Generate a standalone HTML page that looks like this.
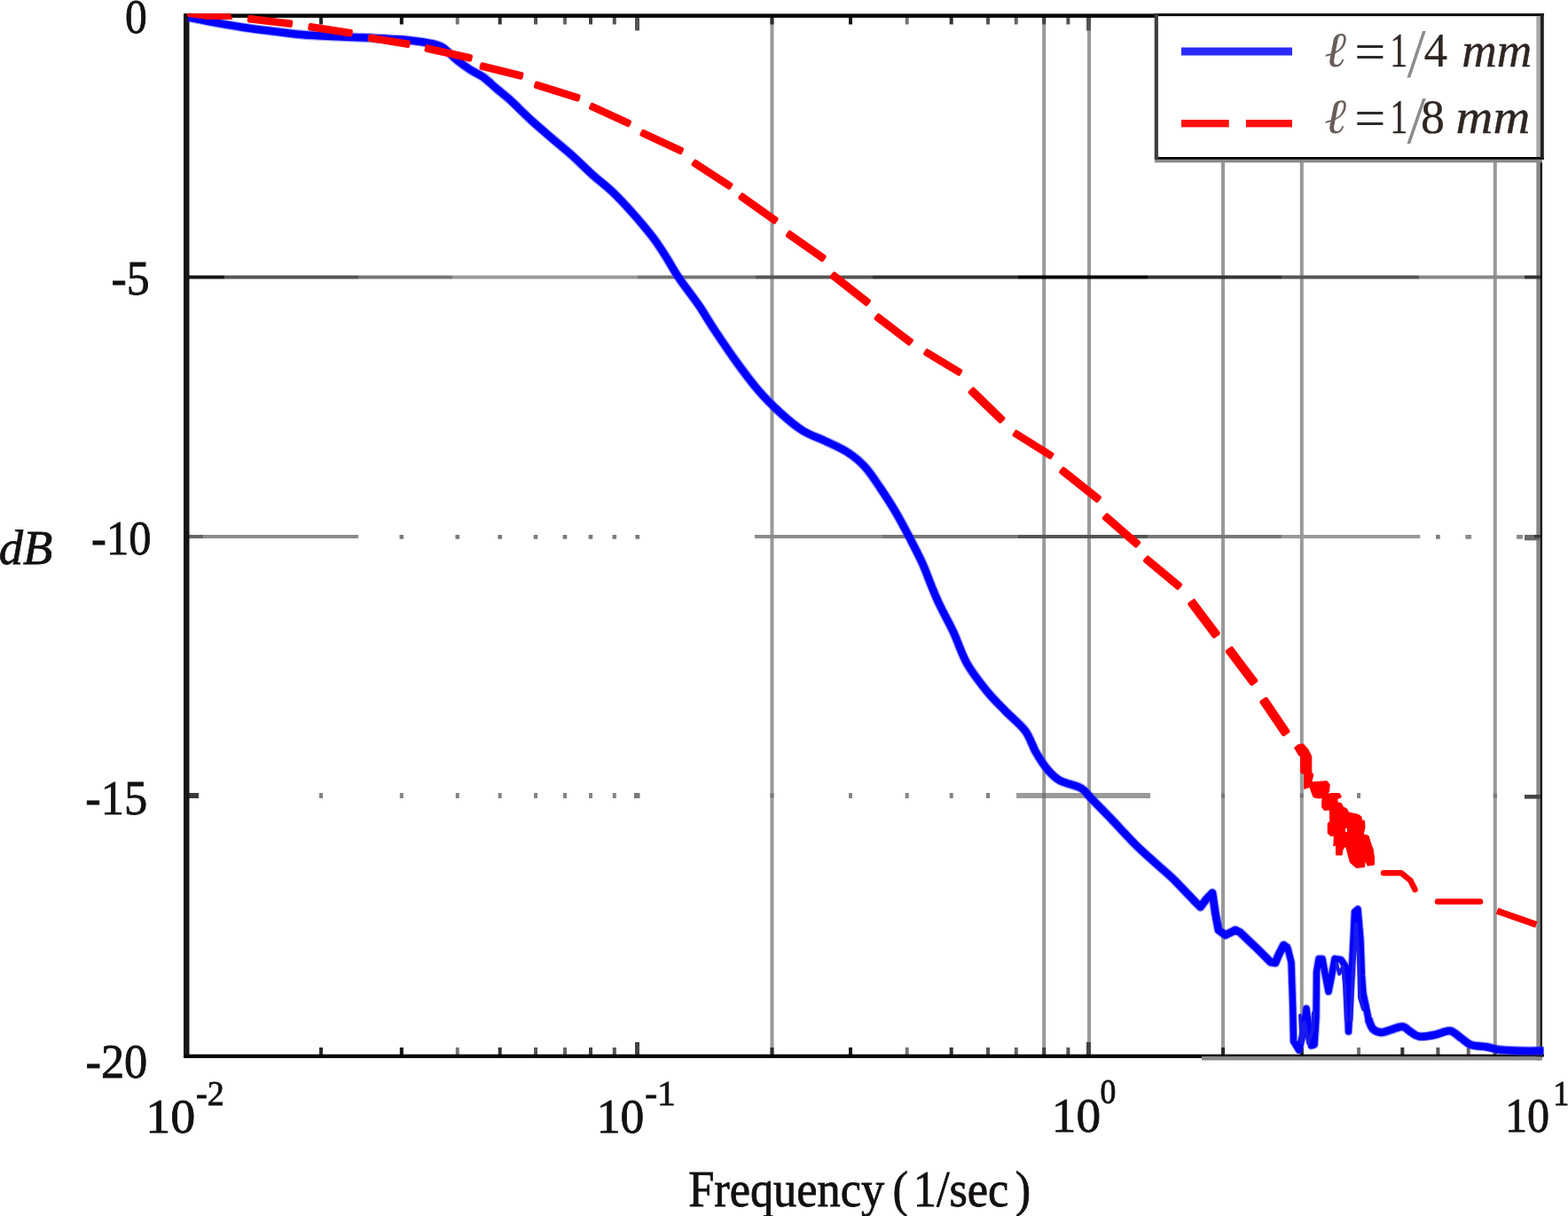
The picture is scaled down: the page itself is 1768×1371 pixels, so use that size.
<!DOCTYPE html>
<html lang="en">
<head>
<meta charset="utf-8">
<title>Frequency response</title>
<style>
html,body{margin:0;padding:0;background:#ffffff;}
body{width:1768px;height:1371px;overflow:hidden;}
svg{display:block;font-family:"Liberation Serif","DejaVu Serif",serif;}
</style>
</head>
<body>
<svg width="1768" height="1371" viewBox="0 0 1768 1371">
<rect x="0" y="0" width="1768" height="1371" fill="#ffffff"/>
<rect x="868.50" y="20.00" width="4.00" height="1170.00" fill="#999999" />
<rect x="1175.20" y="20.00" width="4.00" height="1170.00" fill="#999999" />
<rect x="1226.00" y="20.00" width="4.00" height="1170.00" fill="#999999" />
<rect x="1377.00" y="181.00" width="4.00" height="1009.00" fill="#999999" />
<rect x="1465.80" y="181.00" width="4.00" height="1009.00" fill="#999999" />
<rect x="1683.80" y="181.00" width="4.00" height="1009.00" fill="#999999" />
<rect x="213.00" y="310.50" width="40.00" height="4.00" fill="#151515" />
<rect x="253.00" y="310.50" width="151.00" height="4.00" fill="#555555" />
<rect x="404.00" y="310.50" width="106.00" height="4.00" fill="#777777" />
<rect x="510.00" y="310.50" width="209.00" height="4.00" fill="#999999" />
<rect x="719.00" y="310.50" width="133.00" height="4.00" fill="#777777" />
<rect x="852.00" y="310.50" width="132.00" height="4.00" fill="#555555" />
<rect x="984.00" y="310.50" width="164.00" height="4.00" fill="#333333" />
<rect x="1148.00" y="310.50" width="146.00" height="4.00" fill="#050505" />
<rect x="1294.00" y="310.50" width="151.00" height="4.00" fill="#333333" />
<rect x="1445.00" y="310.50" width="155.00" height="4.00" fill="#555555" />
<rect x="1600.00" y="310.50" width="119.00" height="4.00" fill="#888888" />
<rect x="213.00" y="603.00" width="16.00" height="4.00" fill="#666666" />
<rect x="229.00" y="603.00" width="175.00" height="4.00" fill="#8c8c8c" />
<rect x="851.00" y="603.00" width="144.00" height="4.00" fill="#8c8c8c" />
<rect x="995.00" y="603.00" width="153.00" height="4.00" fill="#777777" />
<rect x="1148.00" y="603.00" width="146.00" height="4.00" fill="#555555" />
<rect x="1294.00" y="603.00" width="151.00" height="4.00" fill="#777777" />
<rect x="1445.00" y="603.00" width="156.30" height="4.00" fill="#999999" />
<rect x="450.50" y="603.00" width="4.60" height="4.70" fill="#7a7a7a" />
<rect x="513.50" y="603.00" width="4.60" height="4.70" fill="#7a7a7a" />
<rect x="561.40" y="603.00" width="4.60" height="4.70" fill="#7a7a7a" />
<rect x="601.70" y="603.00" width="4.60" height="4.70" fill="#7a7a7a" />
<rect x="634.70" y="603.00" width="4.60" height="4.70" fill="#7a7a7a" />
<rect x="663.70" y="603.00" width="4.60" height="4.70" fill="#7a7a7a" />
<rect x="690.50" y="603.00" width="4.60" height="4.70" fill="#7a7a7a" />
<rect x="716.50" y="603.00" width="4.60" height="4.70" fill="#7a7a7a" />
<rect x="1619.10" y="603.00" width="4.60" height="4.70" fill="#7a7a7a" />
<rect x="1652.30" y="603.00" width="6.80" height="4.70" fill="#8a8a8a" />
<rect x="1710.10" y="603.00" width="6.80" height="4.70" fill="#8a8a8a" />
<rect x="213.00" y="894.00" width="11.00" height="6.00" fill="#3a3a3a" />
<rect x="1146.00" y="894.00" width="151.00" height="6.00" fill="#9a9a9a" />
<rect x="360.00" y="894.00" width="4.00" height="6.00" fill="#858585" />
<rect x="450.80" y="894.00" width="4.00" height="6.00" fill="#858585" />
<rect x="513.80" y="894.00" width="4.00" height="6.00" fill="#858585" />
<rect x="561.70" y="894.00" width="4.00" height="6.00" fill="#858585" />
<rect x="602.00" y="894.00" width="4.00" height="6.00" fill="#858585" />
<rect x="635.00" y="894.00" width="4.00" height="6.00" fill="#858585" />
<rect x="664.00" y="894.00" width="4.00" height="6.00" fill="#858585" />
<rect x="690.80" y="894.00" width="4.00" height="6.00" fill="#858585" />
<rect x="957.00" y="894.00" width="4.00" height="6.00" fill="#858585" />
<rect x="1020.70" y="894.00" width="4.00" height="6.00" fill="#858585" />
<rect x="1070.70" y="894.00" width="4.00" height="6.00" fill="#858585" />
<rect x="1112.00" y="894.00" width="4.00" height="6.00" fill="#858585" />
<rect x="1530.00" y="894.00" width="4.00" height="6.00" fill="#858585" />
<rect x="715.00" y="894.00" width="6.50" height="6.00" fill="#7a7a7a" />
<rect x="868.50" y="894.50" width="4.00" height="5.00" fill="#777777" />
<rect x="1377.00" y="894.50" width="4.00" height="5.00" fill="#777777" />
<rect x="1465.80" y="894.50" width="4.00" height="5.00" fill="#777777" />
<rect x="1683.80" y="894.50" width="4.00" height="5.00" fill="#777777" />
<rect x="1175.20" y="894.00" width="4.00" height="6.00" fill="#777777" />
<rect x="1226.00" y="894.00" width="4.00" height="6.00" fill="#777777" />
<rect x="360.00" y="1181.00" width="4.00" height="8.50" fill="#2a2a2a" />
<rect x="360.00" y="19.50" width="4.00" height="8.00" fill="#2a2a2a" />
<rect x="450.80" y="1181.00" width="4.00" height="8.50" fill="#111111" />
<rect x="450.80" y="19.50" width="4.00" height="8.00" fill="#111111" />
<rect x="513.80" y="1181.00" width="4.00" height="8.50" fill="#777777" />
<rect x="513.80" y="19.50" width="4.00" height="8.00" fill="#777777" />
<rect x="561.70" y="1181.00" width="4.00" height="8.50" fill="#333333" />
<rect x="561.70" y="19.50" width="4.00" height="8.00" fill="#333333" />
<rect x="602.00" y="1181.00" width="4.00" height="8.50" fill="#555555" />
<rect x="602.00" y="19.50" width="4.00" height="8.00" fill="#555555" />
<rect x="635.00" y="1181.00" width="4.00" height="8.50" fill="#666666" />
<rect x="635.00" y="19.50" width="4.00" height="8.00" fill="#666666" />
<rect x="664.00" y="1181.00" width="4.00" height="8.50" fill="#444444" />
<rect x="664.00" y="19.50" width="4.00" height="8.00" fill="#444444" />
<rect x="690.80" y="1181.00" width="4.00" height="8.50" fill="#555555" />
<rect x="690.80" y="19.50" width="4.00" height="8.00" fill="#555555" />
<rect x="868.50" y="1181.00" width="4.00" height="8.50" fill="#2a2a2a" />
<rect x="868.50" y="19.50" width="4.00" height="8.00" fill="#2a2a2a" />
<rect x="957.00" y="1181.00" width="4.00" height="8.50" fill="#111111" />
<rect x="957.00" y="19.50" width="4.00" height="8.00" fill="#111111" />
<rect x="1020.70" y="1181.00" width="4.00" height="8.50" fill="#777777" />
<rect x="1020.70" y="19.50" width="4.00" height="8.00" fill="#777777" />
<rect x="1070.70" y="1181.00" width="4.00" height="8.50" fill="#333333" />
<rect x="1070.70" y="19.50" width="4.00" height="8.00" fill="#333333" />
<rect x="1112.00" y="1181.00" width="4.00" height="8.50" fill="#555555" />
<rect x="1112.00" y="19.50" width="4.00" height="8.00" fill="#555555" />
<rect x="1143.80" y="1181.00" width="4.00" height="8.50" fill="#666666" />
<rect x="1143.80" y="19.50" width="4.00" height="8.00" fill="#666666" />
<rect x="1175.20" y="1181.00" width="4.00" height="8.50" fill="#444444" />
<rect x="1175.20" y="19.50" width="4.00" height="8.00" fill="#444444" />
<rect x="1202.40" y="1181.00" width="4.00" height="8.50" fill="#555555" />
<rect x="1202.40" y="19.50" width="4.00" height="8.00" fill="#555555" />
<rect x="1377.00" y="1181.00" width="4.00" height="8.50" fill="#2a2a2a" />
<rect x="1465.80" y="1181.00" width="4.00" height="8.50" fill="#111111" />
<rect x="1530.00" y="1181.00" width="4.00" height="8.50" fill="#777777" />
<rect x="1579.30" y="1181.00" width="4.00" height="8.50" fill="#333333" />
<rect x="1619.40" y="1181.00" width="4.00" height="8.50" fill="#555555" />
<rect x="1653.70" y="1181.00" width="4.00" height="8.50" fill="#666666" />
<rect x="1683.80" y="1181.00" width="4.00" height="8.50" fill="#444444" />
<rect x="1711.50" y="1181.00" width="4.00" height="8.50" fill="#555555" />
<rect x="716.00" y="19.50" width="5.00" height="15.00" fill="#555555" />
<rect x="716.00" y="1175.00" width="5.00" height="14.50" fill="#444444" />
<rect x="1225.00" y="19.50" width="5.00" height="15.00" fill="#555555" />
<rect x="1225.00" y="1175.00" width="5.00" height="14.50" fill="#444444" />
<rect x="207.00" y="15.50" width="6.50" height="1177.50" fill="#161616" />
<rect x="207.00" y="15.50" width="1097.00" height="4.50" fill="#050505" />
<rect x="1732.30" y="181.00" width="4.30" height="1014.50" fill="#8a8a8a" />
<rect x="1736.60" y="181.00" width="2.40" height="1012.00" fill="#050505" />
<rect x="207.00" y="1188.70" width="1148.00" height="4.30" fill="#050505" />
<rect x="1355.00" y="1188.70" width="386.00" height="2.80" fill="#050505" />
<rect x="1355.00" y="1191.50" width="384.00" height="4.00" fill="#8a8a8a" />
<rect x="1719.00" y="310.50" width="18.00" height="4.00" fill="#333333" />
<rect x="1719.00" y="603.00" width="18.00" height="6.30" fill="#6a6a6a" />
<rect x="1730.00" y="603.00" width="7.00" height="3.50" fill="#3a3a3a" />
<rect x="1719.00" y="896.00" width="18.00" height="4.60" fill="#444444" />
<path d="M212.5,19.5 C217.1,20.4 229.6,23.1 240.0,25.0 C250.4,26.9 263.3,29.2 275.0,31.0 C286.7,32.8 299.2,34.2 310.0,35.5 C320.8,36.8 329.2,38.1 340.0,39.0 C350.8,39.9 362.9,40.4 375.0,41.0 C387.1,41.6 401.7,42.0 412.5,42.5 C423.3,43.0 431.7,43.5 440.0,44.0 C448.3,44.5 455.8,44.8 462.5,45.5 C469.2,46.2 475.1,47.2 480.0,48.0 C484.9,48.8 488.7,49.5 492.0,50.5 C495.3,51.5 496.2,51.2 500.0,54.0 C503.8,56.8 510.0,63.4 515.0,67.5 C520.0,71.6 525.0,75.2 530.0,78.5 C535.0,81.8 540.0,83.4 545.0,87.0 C550.0,90.6 555.0,95.8 560.0,100.0 C565.0,104.2 570.0,108.0 575.0,112.5 C580.0,117.0 585.8,123.0 590.0,127.0 C594.2,131.0 594.6,131.6 600.0,136.5 C605.4,141.4 615.1,149.7 622.6,156.2 C630.1,162.7 637.7,168.6 645.2,175.4 C652.8,182.2 660.4,190.1 667.9,196.9 C675.4,203.7 683.0,209.0 690.5,216.2 C698.0,223.4 705.6,231.5 713.1,240.0 C720.6,248.5 729.6,259.0 735.7,267.0 C741.9,275.0 745.1,280.4 750.0,288.0 C754.9,295.6 758.8,303.2 765.0,312.5 C771.2,321.8 780.8,333.8 787.5,343.5 C794.2,353.2 797.9,360.3 805.0,371.0 C812.1,381.7 821.7,396.0 830.0,407.5 C838.3,419.0 846.7,430.3 855.0,440.0 C863.3,449.7 871.7,457.9 880.0,465.5 C888.3,473.1 896.7,480.2 905.0,485.5 C913.3,490.8 921.7,493.0 930.0,497.0 C938.3,501.0 947.5,504.7 955.0,509.5 C962.5,514.3 968.8,519.2 975.0,526.0 C981.2,532.8 986.7,541.4 992.5,550.0 C998.3,558.6 1004.6,568.3 1010.0,577.5 C1015.4,586.7 1020.0,595.4 1025.0,605.0 C1030.0,614.6 1035.8,625.8 1040.0,635.0 C1044.2,644.2 1046.7,652.0 1050.0,660.0 C1053.3,668.0 1055.8,674.2 1060.0,683.0 C1064.2,691.8 1070.0,701.8 1075.0,712.5 C1080.0,723.2 1083.8,736.4 1090.0,747.5 C1096.2,758.6 1105.2,769.9 1112.5,779.0 C1119.8,788.1 1126.8,794.5 1134.0,802.0 C1141.2,809.5 1150.3,816.3 1156.0,824.0 C1161.7,831.7 1163.8,840.7 1168.0,848.0 C1172.2,855.3 1177.0,862.7 1181.5,868.0 C1186.0,873.3 1188.8,876.6 1195.0,880.0 C1201.2,883.4 1213.0,885.2 1219.0,888.6 C1225.0,892.0 1225.1,894.8 1230.7,900.5 C1236.3,906.2 1244.5,914.4 1252.7,923.0 C1260.9,931.6 1271.7,943.7 1280.0,952.0 C1288.3,960.3 1295.1,965.9 1302.6,972.8 C1310.1,979.7 1317.7,985.8 1325.2,993.2 L1347.9,1017.0 L1353.5,1022.6 L1360.0,1014.0 L1367.0,1006.7 L1370.5,1030.5 L1374.0,1048.6 L1381.8,1054.3 L1393.0,1048.6 L1398.0,1051.0 L1415.7,1067.8 L1432.7,1084.8 L1438.0,1085.5 L1442.0,1076.0 L1447.4,1065.6 L1452.0,1069.0" fill="none" stroke="#4848ee" stroke-width="10.8" stroke-linejoin="round" stroke-linecap="butt" stroke-opacity="0.5"/>
<path d="M1543.0,1149.0 C1543.8,1150.8 1545.6,1157.5 1548.0,1160.0 C1550.4,1162.5 1554.1,1163.8 1557.5,1164.0 C1560.9,1164.2 1564.6,1162.1 1568.6,1161.0 C1572.6,1159.9 1577.9,1157.2 1581.5,1157.5 C1585.1,1157.8 1586.9,1161.2 1590.0,1163.0 C1593.1,1164.8 1595.4,1167.9 1600.0,1168.5 C1604.6,1169.1 1612.0,1167.8 1617.8,1166.7 C1623.6,1165.7 1629.8,1161.7 1634.7,1162.2 C1639.6,1162.8 1643.0,1167.4 1647.0,1170.0 C1651.0,1172.6 1653.8,1176.3 1658.5,1178.0 C1663.2,1179.7 1669.8,1179.3 1675.5,1180.3 C1681.2,1181.2 1685.8,1183.0 1692.4,1183.7 C1699.0,1184.5 1707.0,1184.6 1715.0,1184.8 C1723.0,1185.0 1736.2,1184.8 1740.5,1184.8" fill="none" stroke="#4848ee" stroke-width="10.8" stroke-linejoin="round" stroke-linecap="butt" stroke-opacity="0.5"/>
<path d="M1452.0,1069.0 L1456.0,1085.0 L1457.7,1135.0 L1458.5,1174.0 L1464.7,1184.0 L1468.0,1170.0 L1470.2,1160.0 L1473.0,1137.0 L1476.0,1160.0 L1478.5,1179.0 L1482.0,1178.0 L1484.0,1148.0 L1484.5,1096.0 L1487.0,1081.0 L1491.0,1081.0 L1494.5,1100.0 L1498.0,1118.0 L1501.5,1100.0 L1505.0,1081.0 L1512.0,1082.0 L1517.5,1090.0 L1519.0,1120.0 L1520.5,1163.0 L1522.5,1120.0 L1524.5,1090.0 L1527.5,1028.0 L1531.0,1025.0 L1534.0,1060.0 L1535.5,1100.0 L1537.0,1120.0 L1540.0,1134.0 L1543.0,1149.0" fill="none" stroke="#4848ee" stroke-width="9.4" stroke-linejoin="round" stroke-linecap="round" stroke-opacity="0.55"/>
<path d="M212.5,19.5 C217.1,20.4 229.6,23.1 240.0,25.0 C250.4,26.9 263.3,29.2 275.0,31.0 C286.7,32.8 299.2,34.2 310.0,35.5 C320.8,36.8 329.2,38.1 340.0,39.0 C350.8,39.9 362.9,40.4 375.0,41.0 C387.1,41.6 401.7,42.0 412.5,42.5 C423.3,43.0 431.7,43.5 440.0,44.0 C448.3,44.5 455.8,44.8 462.5,45.5 C469.2,46.2 475.1,47.2 480.0,48.0 C484.9,48.8 488.7,49.5 492.0,50.5 C495.3,51.5 496.2,51.2 500.0,54.0 C503.8,56.8 510.0,63.4 515.0,67.5 C520.0,71.6 525.0,75.2 530.0,78.5 C535.0,81.8 540.0,83.4 545.0,87.0 C550.0,90.6 555.0,95.8 560.0,100.0 C565.0,104.2 570.0,108.0 575.0,112.5 C580.0,117.0 585.8,123.0 590.0,127.0 C594.2,131.0 594.6,131.6 600.0,136.5 C605.4,141.4 615.1,149.7 622.6,156.2 C630.1,162.7 637.7,168.6 645.2,175.4 C652.8,182.2 660.4,190.1 667.9,196.9 C675.4,203.7 683.0,209.0 690.5,216.2 C698.0,223.4 705.6,231.5 713.1,240.0 C720.6,248.5 729.6,259.0 735.7,267.0 C741.9,275.0 745.1,280.4 750.0,288.0 C754.9,295.6 758.8,303.2 765.0,312.5 C771.2,321.8 780.8,333.8 787.5,343.5 C794.2,353.2 797.9,360.3 805.0,371.0 C812.1,381.7 821.7,396.0 830.0,407.5 C838.3,419.0 846.7,430.3 855.0,440.0 C863.3,449.7 871.7,457.9 880.0,465.5 C888.3,473.1 896.7,480.2 905.0,485.5 C913.3,490.8 921.7,493.0 930.0,497.0 C938.3,501.0 947.5,504.7 955.0,509.5 C962.5,514.3 968.8,519.2 975.0,526.0 C981.2,532.8 986.7,541.4 992.5,550.0 C998.3,558.6 1004.6,568.3 1010.0,577.5 C1015.4,586.7 1020.0,595.4 1025.0,605.0 C1030.0,614.6 1035.8,625.8 1040.0,635.0 C1044.2,644.2 1046.7,652.0 1050.0,660.0 C1053.3,668.0 1055.8,674.2 1060.0,683.0 C1064.2,691.8 1070.0,701.8 1075.0,712.5 C1080.0,723.2 1083.8,736.4 1090.0,747.5 C1096.2,758.6 1105.2,769.9 1112.5,779.0 C1119.8,788.1 1126.8,794.5 1134.0,802.0 C1141.2,809.5 1150.3,816.3 1156.0,824.0 C1161.7,831.7 1163.8,840.7 1168.0,848.0 C1172.2,855.3 1177.0,862.7 1181.5,868.0 C1186.0,873.3 1188.8,876.6 1195.0,880.0 C1201.2,883.4 1213.0,885.2 1219.0,888.6 C1225.0,892.0 1225.1,894.8 1230.7,900.5 C1236.3,906.2 1244.5,914.4 1252.7,923.0 C1260.9,931.6 1271.7,943.7 1280.0,952.0 C1288.3,960.3 1295.1,965.9 1302.6,972.8 C1310.1,979.7 1317.7,985.8 1325.2,993.2 L1347.9,1017.0 L1353.5,1022.6 L1360.0,1014.0 L1367.0,1006.7 L1370.5,1030.5 L1374.0,1048.6 L1381.8,1054.3 L1393.0,1048.6 L1398.0,1051.0 L1415.7,1067.8 L1432.7,1084.8 L1438.0,1085.5 L1442.0,1076.0 L1447.4,1065.6 L1452.0,1069.0" fill="none" stroke="#0000ff" stroke-width="8.5" stroke-linejoin="round" stroke-linecap="butt"/>
<path d="M1543.0,1149.0 C1543.8,1150.8 1545.6,1157.5 1548.0,1160.0 C1550.4,1162.5 1554.1,1163.8 1557.5,1164.0 C1560.9,1164.2 1564.6,1162.1 1568.6,1161.0 C1572.6,1159.9 1577.9,1157.2 1581.5,1157.5 C1585.1,1157.8 1586.9,1161.2 1590.0,1163.0 C1593.1,1164.8 1595.4,1167.9 1600.0,1168.5 C1604.6,1169.1 1612.0,1167.8 1617.8,1166.7 C1623.6,1165.7 1629.8,1161.7 1634.7,1162.2 C1639.6,1162.8 1643.0,1167.4 1647.0,1170.0 C1651.0,1172.6 1653.8,1176.3 1658.5,1178.0 C1663.2,1179.7 1669.8,1179.3 1675.5,1180.3 C1681.2,1181.2 1685.8,1183.0 1692.4,1183.7 C1699.0,1184.5 1707.0,1184.6 1715.0,1184.8 C1723.0,1185.0 1736.2,1184.8 1740.5,1184.8" fill="none" stroke="#0000ff" stroke-width="8.5" stroke-linejoin="round" stroke-linecap="butt"/>
<path d="M1452.0,1069.0 L1456.0,1085.0 L1457.7,1135.0 L1458.5,1174.0 L1464.7,1184.0 L1468.0,1170.0 L1470.2,1160.0 L1473.0,1137.0 L1476.0,1160.0 L1478.5,1179.0 L1482.0,1178.0 L1484.0,1148.0 L1484.5,1096.0 L1487.0,1081.0 L1491.0,1081.0 L1494.5,1100.0 L1498.0,1118.0 L1501.5,1100.0 L1505.0,1081.0 L1512.0,1082.0 L1517.5,1090.0 L1519.0,1120.0 L1520.5,1163.0 L1522.5,1120.0 L1524.5,1090.0 L1527.5,1028.0 L1531.0,1025.0 L1534.0,1060.0 L1535.5,1100.0 L1537.0,1120.0 L1540.0,1134.0 L1543.0,1149.0" fill="none" stroke="#0000ff" stroke-width="7.2" stroke-linejoin="round" stroke-linecap="round"/>
<path d="M1466.0,1145.0 L1467.5,1176.0 L1471.0,1152.0 L1475.0,1176.0 L1480.0,1162.0 L1481.0,1142.0" fill="none" stroke="#1a1aee" stroke-width="4" stroke-linejoin="round" stroke-linecap="round"/>
<path d="M1507.0,1086.0 L1510.0,1098.0 L1514.0,1090.0 L1516.0,1110.0 L1518.0,1150.0" fill="none" stroke="#1a1aee" stroke-width="4" stroke-linejoin="round" stroke-linecap="round"/>
<path d="M1523.5,1150.0 L1526.0,1090.0 L1529.0,1042.0 L1532.0,1080.0 L1533.0,1125.0 L1537.0,1138.0" fill="none" stroke="#1a1aee" stroke-width="4" stroke-linejoin="round" stroke-linecap="round"/>
<polygon points="211,15.3 260,15.3 262.2,22 233,22 211,18.8" fill="#ff0000"/>
<rect x="0" y="-4.30" width="51.4" height="8.60" rx="2.2" fill="#ff0000" transform="translate(279.0,21.0) rotate(6.71)"/>
<rect x="0" y="-4.30" width="50.6" height="8.60" rx="2.2" fill="#ff0000" transform="translate(347.5,30.0) rotate(8.53)"/>
<rect x="0" y="-4.30" width="48.1" height="8.60" rx="2.2" fill="#ff0000" transform="translate(415.0,42.5) rotate(8.97)"/>
<rect x="0" y="-4.30" width="54.8" height="8.60" rx="2.2" fill="#ff0000" transform="translate(479.0,54.0) rotate(12.64)"/>
<rect x="0" y="-4.30" width="50.4" height="8.60" rx="2.2" fill="#ff0000" transform="translate(541.0,74.0) rotate(13.76)"/>
<rect x="0" y="-4.30" width="53.9" height="8.60" rx="2.2" fill="#ff0000" transform="translate(602.5,95.0) rotate(17.26)"/>
<rect x="0" y="-4.30" width="50.6" height="8.60" rx="2.2" fill="#ff0000" transform="translate(665.0,119.0) rotate(24.54)"/>
<rect x="0" y="-4.30" width="52.3" height="8.60" rx="2.2" fill="#ff0000" transform="translate(722.5,149.0) rotate(24.85)"/>
<rect x="0" y="-4.36" width="52.4" height="8.72" rx="2.2" fill="#ff0000" transform="translate(781.0,182.5) rotate(32.93)"/>
<rect x="0" y="-4.44" width="51.6" height="8.89" rx="2.2" fill="#ff0000" transform="translate(834.0,220.0) rotate(35.54)"/>
<rect x="0" y="-4.43" width="52.0" height="8.86" rx="2.2" fill="#ff0000" transform="translate(887.5,262.5) rotate(35.22)"/>
<rect x="0" y="-4.54" width="54.1" height="9.07" rx="2.2" fill="#ff0000" transform="translate(937.5,309.0) rotate(38.25)"/>
<rect x="0" y="-4.51" width="51.0" height="9.01" rx="2.2" fill="#ff0000" transform="translate(987.5,356.0) rotate(37.43)"/>
<rect x="0" y="-4.30" width="48.4" height="8.61" rx="2.2" fill="#ff0000" transform="translate(1042.5,396.0) rotate(31.07)"/>
<rect x="0" y="-4.77" width="51.6" height="9.53" rx="2.2" fill="#ff0000" transform="translate(1094.0,439.0) rotate(44.22)"/>
<rect x="0" y="-4.33" width="51.9" height="8.66" rx="2.2" fill="#ff0000" transform="translate(1143.0,487.5) rotate(32.01)"/>
<rect x="0" y="-4.54" width="56.2" height="9.09" rx="2.2" fill="#ff0000" transform="translate(1196.0,529.0) rotate(38.50)"/>
<rect x="0" y="-4.64" width="51.7" height="9.28" rx="2.2" fill="#ff0000" transform="translate(1245.0,581.0) rotate(41.08)"/>
<rect x="0" y="-4.60" width="52.2" height="9.19" rx="2.2" fill="#ff0000" transform="translate(1291.0,629.0) rotate(39.95)"/>
<rect x="0" y="-5.22" width="50.0" height="10.43" rx="2.2" fill="#ff0000" transform="translate(1342.5,677.5) rotate(53.13)"/>
<rect x="0" y="-5.22" width="50.0" height="10.43" rx="2.2" fill="#ff0000" transform="translate(1385.0,731.0) rotate(53.13)"/>
<rect x="0" y="-5.30" width="48.4" height="10.60" rx="2.2" fill="#ff0000" transform="translate(1423.8,788.0) rotate(55.78)"/>
<polygon points="1459.4,843.0 1464.0,839.5 1469.6,838.9 1474.7,844.5 1478.8,852.7 1478.8,871.0 1480.8,873.0 1478.8,882.0 1488.0,881.3 1496.2,880.7 1499.2,884.3 1498.7,891.5 1497.2,895.6 1501.3,894.5 1510.4,894.5 1512.5,898.6 1508.0,900.7 1508.0,904.7 1512.5,905.8 1514.5,909.9 1518.6,911.9 1520.7,916.0 1531.9,918.5 1535.0,921.0 1535.5,925.2 1538.5,925.2 1539.0,933.3 1537.0,940.5 1543.1,942.5 1546.2,952.7 1548.0,957.0 1549.6,967.4 1549.6,975.0 1542.0,976.0 1539.4,969.5 1538.5,977.6 1529.2,978.4 1522.4,972.5 1519.0,960.0 1517.3,953.6 1514.0,958.0 1513.0,964.0 1506.5,964.0 1506.4,952.7 1503.8,953.8 1504.3,942.5 1500.2,942.5 1497.2,939.5 1497.2,928.2 1499.7,926.0 1499.2,913.0 1493.0,913.4 1490.5,909.9 1491.0,899.6 1486.0,900.0 1480.8,898.6 1476.8,887.4 1470.6,889.4 1470.6,873.0 1466.5,871.0 1466.5,852.7 1464.5,851.7" fill="#ff0000" stroke="#ff0000" stroke-width="1" stroke-linejoin="round"/>
<rect x="1517.00" y="934.00" width="2.00" height="4.00" fill="#ffffff" />
<path d="M1560.0,984.2 L1580.0,984.2 L1590.4,992.7 L1595.5,1003.0" fill="none" stroke="#ff0000" stroke-width="6.5" stroke-linejoin="round" stroke-linecap="round"/>
<path d="M1621.0,1016.5 L1669.0,1016.5" fill="none" stroke="#ff0000" stroke-width="6.5" stroke-linejoin="round" stroke-linecap="round"/>
<path d="M1688.0,1027.0 L1732.3,1042.5" fill="none" stroke="#ff0000" stroke-width="7.5" stroke-linejoin="round" stroke-linecap="butt"/>
<rect x="1302.00" y="16.00" width="439.00" height="164.00" fill="#ffffff" />
<rect x="1302.00" y="179.70" width="437.00" height="3.60" fill="#8a8a8a" />
<rect x="1302.00" y="15.20" width="439.00" height="3.00" fill="#050505" />
<rect x="1302.00" y="177.00" width="439.00" height="2.80" fill="#050505" />
<rect x="1301.70" y="15.20" width="4.20" height="164.80" fill="#3c3c3c" />
<rect x="1732.30" y="18.00" width="4.50" height="159.00" fill="#a8a8a8" />
<rect x="1736.80" y="15.20" width="4.00" height="164.80" fill="#222222" />
<rect x="1332.00" y="53.50" width="125.00" height="9.00" fill="#2b2bff" />
<rect x="1332.00" y="135.00" width="53.70" height="8.40" fill="#ff1010" />
<rect x="1404.80" y="135.00" width="52.20" height="8.40" fill="#ff1010" />
<text transform="translate(141.01,37.10) scale(0.8930,1)" font-size="55.49" fill="#141010" stroke="#141010" stroke-width="0.8">0</text>
<text transform="translate(125.48,332.40) scale(0.9309,1)" font-size="55.64" fill="#141010" stroke="#141010" stroke-width="0.8">-5</text>
<text transform="translate(103.02,625.10) scale(0.9177,1)" font-size="55.18" fill="#141010" stroke="#141010" stroke-width="0.8">-10</text>
<text transform="translate(96.35,918.00) scale(0.9398,1)" font-size="55.79" fill="#141010" stroke="#141010" stroke-width="0.8">-15</text>
<text transform="translate(96.46,1215.00) scale(0.9520,1)" font-size="55.03" fill="#141010" stroke="#141010" stroke-width="0.8">-20</text>
<text transform="translate(-1.25,635.80) scale(0.9781,1)" font-size="55.63" font-style="italic" fill="#141010" stroke="#141010" stroke-width="0.8">dB</text>
<text transform="translate(164.17,1277.20) scale(1.0023,1)" font-size="55.94" fill="#141010" stroke="#141010" stroke-width="0.8">10</text>
<text transform="translate(220.99,1246.30) scale(0.9732,1)" font-size="39.12" fill="#141010" stroke="#141010" stroke-width="0.8">-2</text>
<text transform="translate(672.68,1277.30) scale(0.9671,1)" font-size="55.49" fill="#141010" stroke="#141010" stroke-width="0.8">10</text>
<text transform="translate(727.15,1246.40) scale(1.0593,1)" font-size="39.38" fill="#141010" stroke="#141010" stroke-width="0.8">-1</text>
<text transform="translate(1185.83,1275.60) scale(0.9953,1)" font-size="55.64" fill="#141010" stroke="#141010" stroke-width="0.8">10</text>
<text transform="translate(1240.44,1244.10) scale(0.9078,1)" font-size="39.25" fill="#141010" stroke="#141010" stroke-width="0.8">0</text>
<text transform="translate(1696.99,1275.60) scale(0.9028,1)" font-size="55.64" fill="#141010" stroke="#141010" stroke-width="0.8">10</text>
<text transform="translate(1751.23,1246.40) scale(0.9231,1)" font-size="39.08" fill="#141010" stroke="#141010" stroke-width="0.8">1</text>
<text transform="translate(0,1359.80) scale(0.9324,1)" font-size="56.18" fill="#141010" stroke="#141010" stroke-width="0.8"><tspan x="832.42">Frequency </tspan><tspan x="1079.52">(</tspan><tspan x="1104.40">1/sec</tspan><tspan x="1227.64">)</tspan></text>
<text transform="translate(1493.28,75.00) scale(1.0707,1)" font-size="55.64" font-style="italic" fill="#6a5e5a">ℓ</text>
<text transform="translate(1527.20,78.95) scale(1.2464,1.22)" font-size="50.0" fill="#2a2a2a">=</text>
<text transform="translate(1567.25,74.92) scale(0.7191,1)" font-size="55.30" fill="#2e2622" stroke="#2e2622" stroke-width="0.3">1</text>
<text transform="translate(1586.40,85.50) scale(0.9817,1)" font-size="77.73" fill="#8c8c8c">/</text>
<text transform="translate(1605.56,74.95) scale(0.9628,1)" font-size="55.41" fill="#2e2622" stroke="#2e2622" stroke-width="0.2">4</text>
<text transform="translate(1648.22,74.90) scale(0.9921,1)" font-size="55.19" font-style="italic" fill="#2e2622" stroke="#2e2622" stroke-width="0.4">mm</text>
<text transform="translate(1493.28,150.40) scale(1.0824,1)" font-size="55.04" font-style="italic" fill="#6a5e5a">ℓ</text>
<text transform="translate(1527.20,154.35) scale(1.2464,1.22)" font-size="50.0" fill="#2a2a2a">=</text>
<text transform="translate(1567.25,150.33) scale(0.7270,1)" font-size="54.70" fill="#2e2622" stroke="#2e2622" stroke-width="0.3">1</text>
<text transform="translate(1586.40,160.90) scale(0.9893,1)" font-size="77.13" fill="#8c8c8c">/</text>
<text transform="translate(1602.05,150.35) scale(0.9815,1)" font-size="54.81" fill="#2e2622" stroke="#2e2622" stroke-width="0.2">8</text>
<text transform="translate(1641.61,150.30) scale(1.0607,1)" font-size="54.59" font-style="italic" fill="#2e2622" stroke="#2e2622" stroke-width="0.4">mm</text>
</svg>
</body>
</html>
